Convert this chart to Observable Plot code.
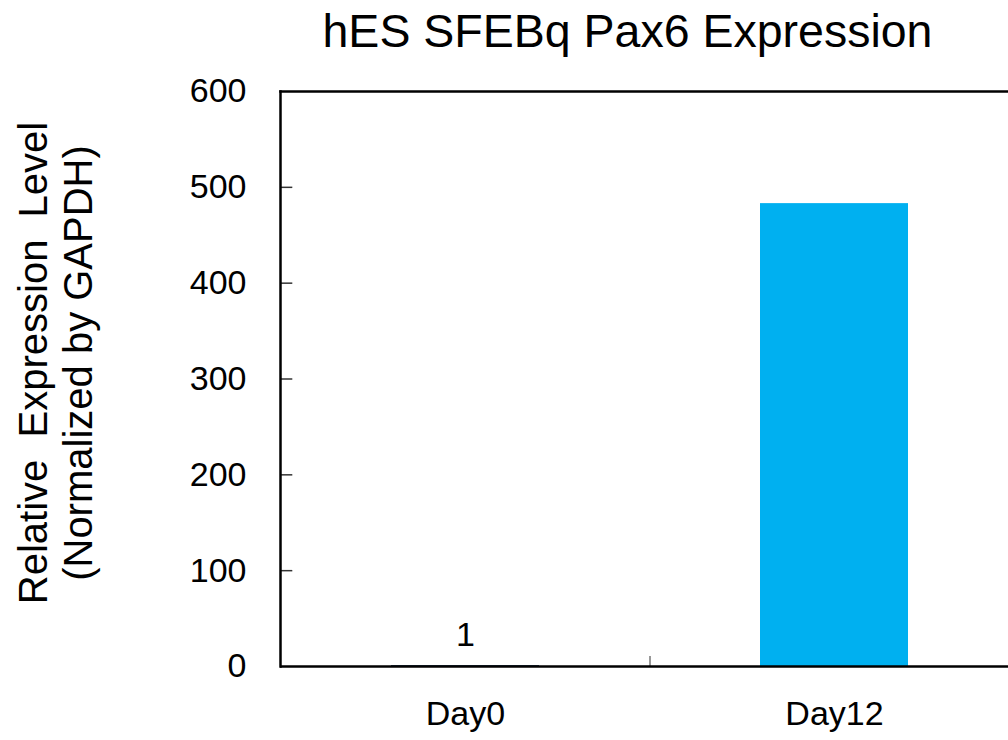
<!DOCTYPE html>
<html>
<head>
<meta charset="utf-8">
<script src="https://cdn.jsdelivr.net/npm/d3@7"></script>
<script src="https://cdn.jsdelivr.net/npm/@observablehq/plot@0.6"></script>
<style>
  html, body { margin: 0; padding: 0; background: #fff; }
  #wrap { position: relative; width: 1008px; height: 740px; overflow: hidden; font-family: "Liberation Sans", Arial, sans-serif; }
  #title { position: absolute; left: 0; top: 4px; width: 1255px; text-align: center; font-size: 46.5px; color: #000; white-space: nowrap; }
</style>
</head>
<body>
<div id="wrap">
  <div id="title">hES SFEBq Pax6 Expression</div>
  <div id="chart"></div>
</div>
<script>
const categories = ["Day0", "Day12"];
const values = [1, 483];
const valueLabels = ["1", ""];
const barColors = ["#1F3F5F", "#00B0F0"];
const yTicks = [0, 100, 200, 300, 400, 500, 600];
const yLabel = "Relative  Expression  Level\n(Normalized by GAPDH)";

const data = categories.map((c, i) => ({cat: c, value: values[i], label: valueLabels[i], color: barColors[i]}));
const innerTicks = yTicks.slice(1, -1).map(v => ({v}));

const W = 1008, H = 740;
const mL = 280, mT = 91, mB = 74;
const xRange = [mL, 1018];
const padInner = 0.6, padOuter = 0.3;
const step = (xRange[1] - xRange[0]) / (categories.length - padInner + 2 * padOuter);
const frameH = H - mT - mB;
const tickLen = 12;

const chart = Plot.plot({
  width: W,
  height: H,
  marginLeft: mL,
  marginTop: mT,
  marginBottom: mB,
  marginRight: 0,
  style: {fontFamily: "'Liberation Sans', Arial, sans-serif", background: "#fff", color: "#000"},
  x: {domain: categories, range: xRange, paddingInner: padInner, paddingOuter: padOuter, label: null},
  y: {domain: [0, 600], label: null},
  marks: [
    Plot.barY(data, {x: "cat", y: "value", fill: "color"}),
    Plot.text(data, {x: "cat", y: "value", text: "label", dy: -30, fontSize: 34, fill: "#000"}),
    Plot.axisY({ticks: yTicks, tickSize: 0, tickPadding: 34, fontSize: 34, label: null}),
    Plot.axisX({tickSize: 0, tickPadding: 34, fontSize: 34, label: null}),
    // category boundary tick
    Plot.ruleX(categories.slice(1), {dx: -step / 2, insetTop: frameH - 10, stroke: "#333", strokeWidth: 1}),
    // inward ticks on y axis (only the first tickLen pixels are drawn)
    Plot.tickY(innerTicks, {y: "v", x: () => categories[0], dx: -step * padOuter, stroke: "#333", strokeWidth: 1.5, strokeDasharray: `${tickLen} 2000`}),
    Plot.ruleY([0], {stroke: "#000", strokeWidth: 2.5}),
    Plot.frame({anchor: "left", stroke: "#000", strokeWidth: 2.5}),
    Plot.frame({anchor: "top", stroke: "#000", strokeWidth: 2.5}),
    Plot.text([yLabel], {frameAnchor: "left", rotate: -90, dx: -225, dy: -16, fontSize: 40, lineHeight: 1.12, fill: "#000", textAnchor: "middle"})
  ]
});
document.getElementById("chart").appendChild(chart);
</script>
</body>
</html>
